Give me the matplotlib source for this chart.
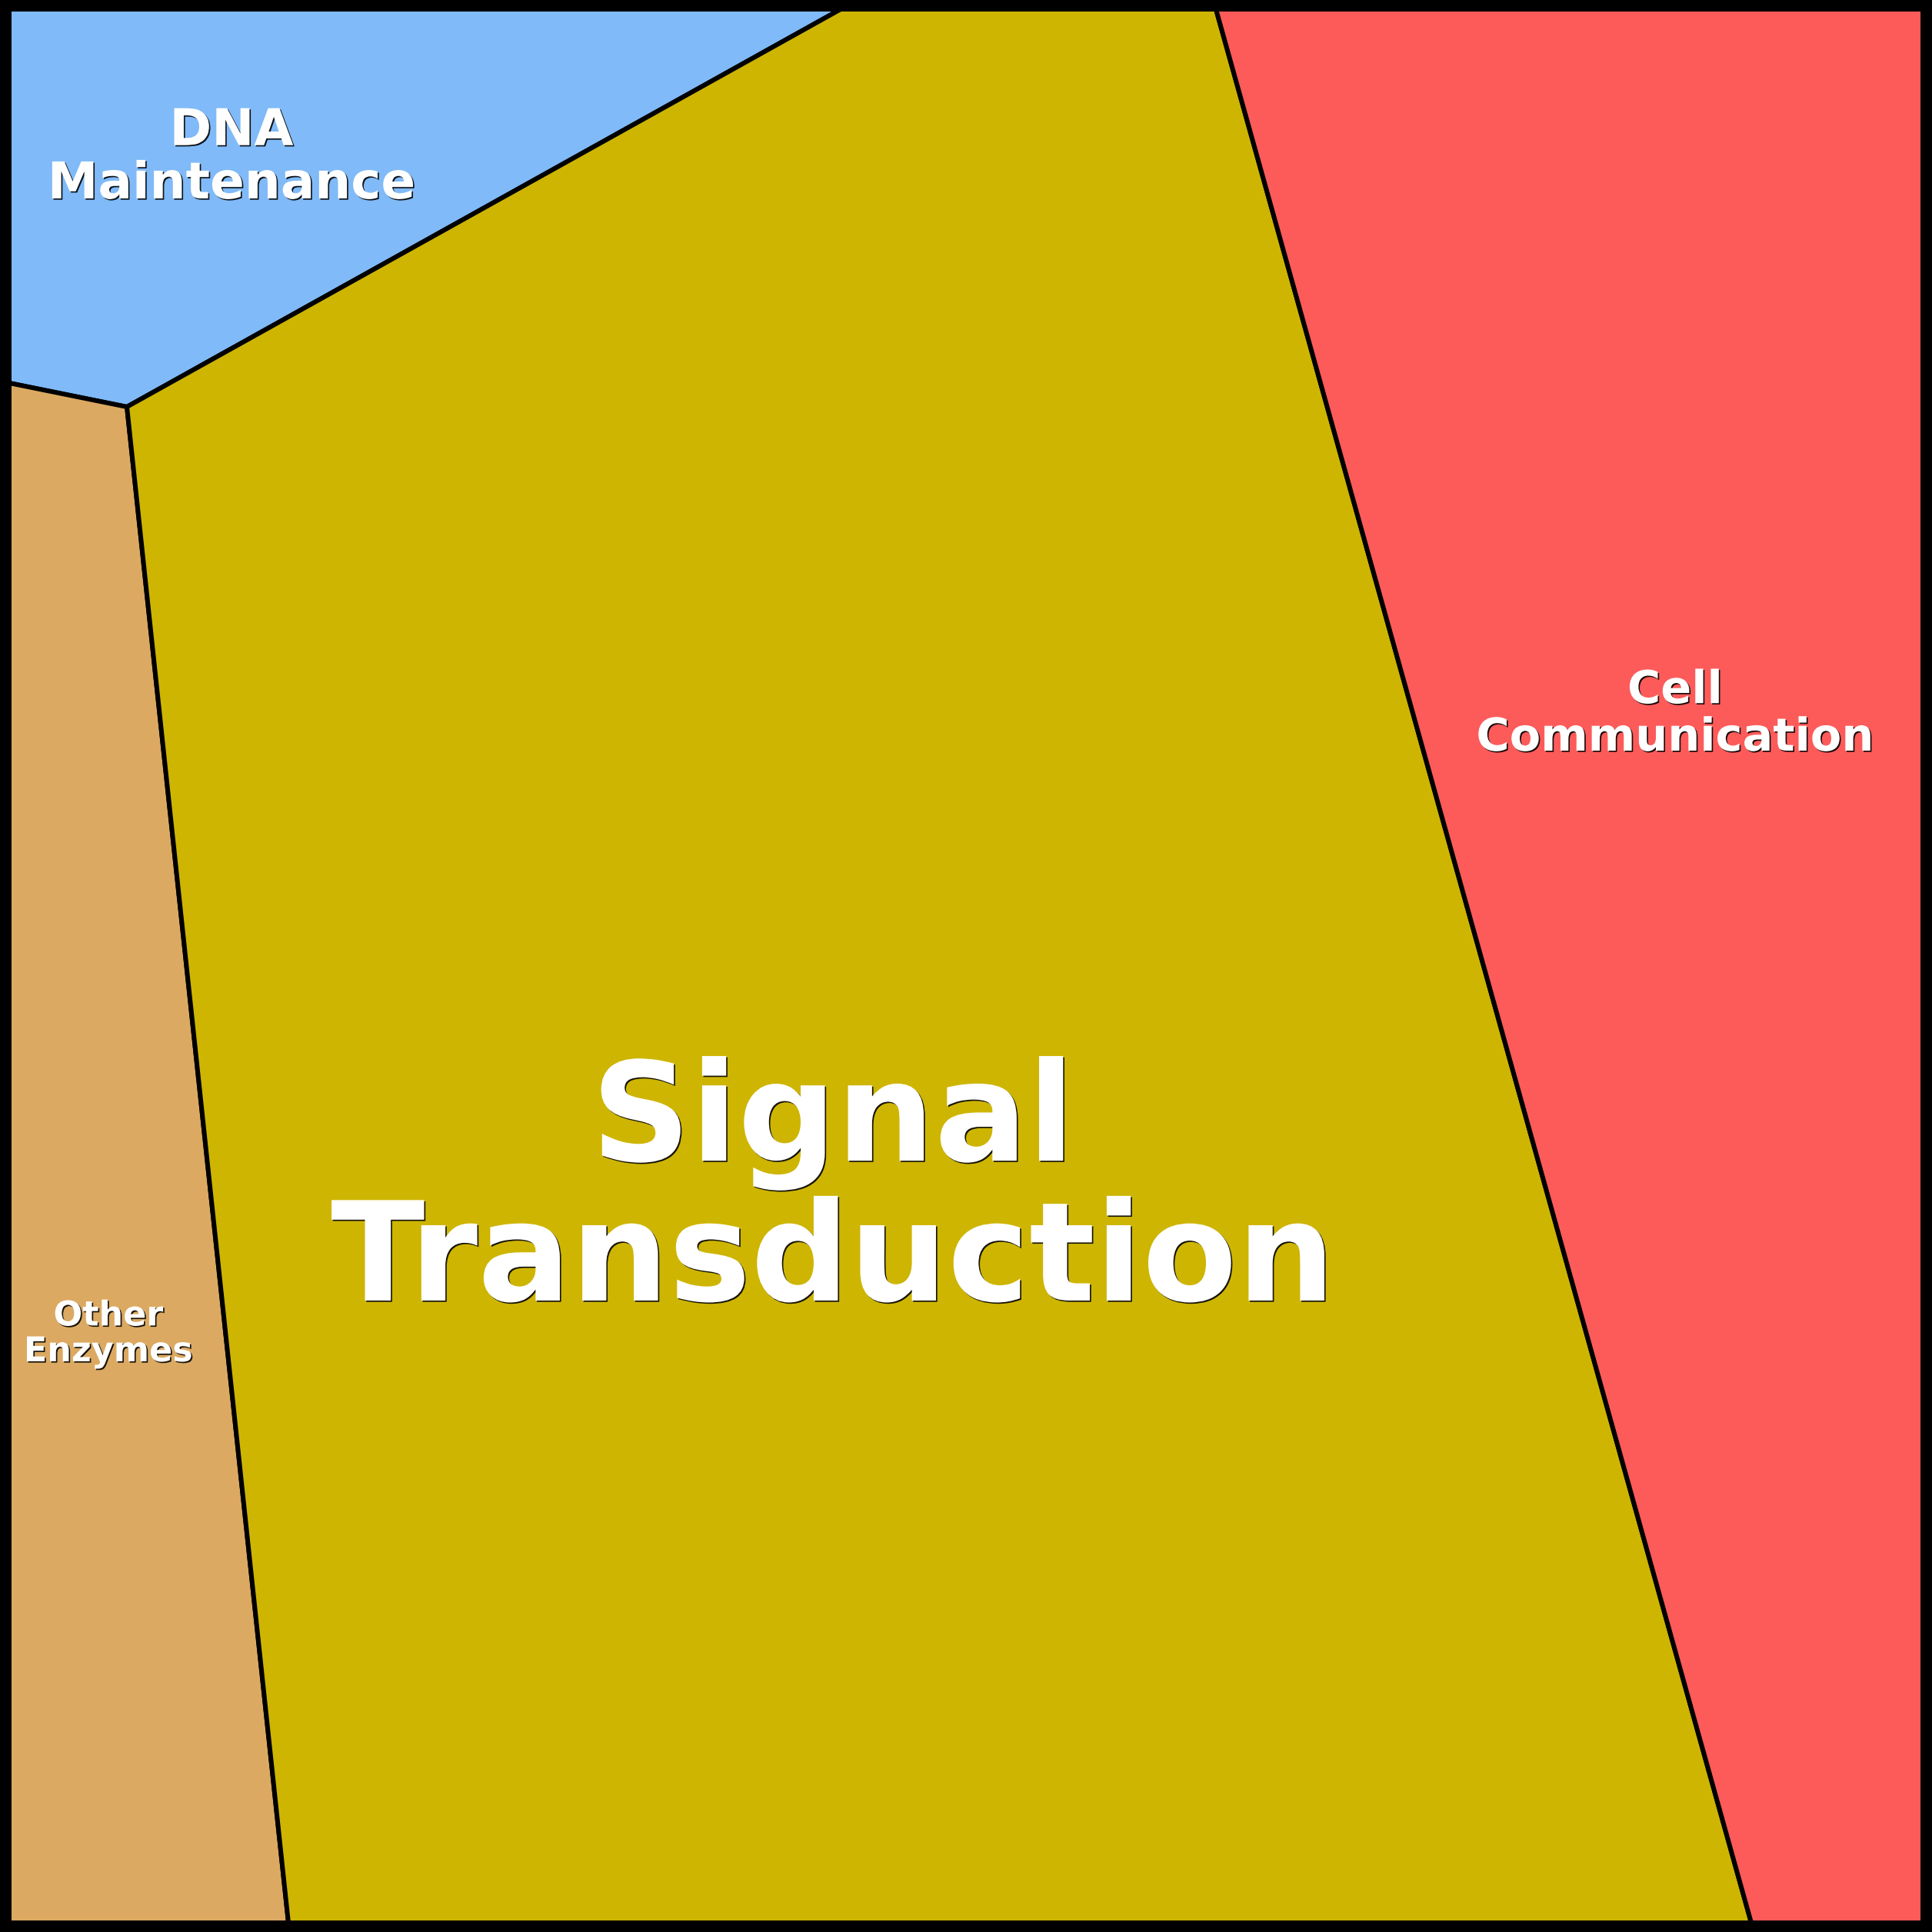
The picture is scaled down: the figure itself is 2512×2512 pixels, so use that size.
import matplotlib
matplotlib.use("Agg")
import matplotlib.pyplot as plt
import matplotlib.patheffects as pe
from matplotlib.patches import Polygon, Rectangle

# canvas size in pixels, frame drawn around the inner area
W = H = 2512
pad = 12

# shared cell vertices (pixel coords, y grows downward)
left_split = (pad, 498)        # DNA / Other on left edge
junction = (165, 529)          # DNA / Other / Signal
top_split_a = (1093, pad)      # DNA / Signal on top edge
top_split_b = (1581, pad)      # Signal / Cell on top edge
bottom_split_b = (2277, W - pad)  # Signal / Cell on bottom edge
bottom_split_a = (375, W - pad)   # Other / Signal on bottom edge

categories = ["DNA\nMaintenance", "Other\nEnzymes", "Signal\nTransduction", "Cell\nCommunication"]
colors = ["#80BAF8", "#DBA961", "#CEB502", "#FD5B5A"]

cells = [
    [(pad, pad), top_split_a, junction, left_split],
    [left_split, junction, bottom_split_a, (pad, H - pad)],
    [junction, top_split_a, top_split_b, bottom_split_b, bottom_split_a],
    [top_split_b, (W - pad, pad), (W - pad, H - pad), bottom_split_b],
]

# label anchor: centre x, baseline of last line; font size in pt
label_x = [301, 141, 1083, 2178]
label_y = [258, 1770, 1691, 976]
label_size = [47.5, 32, 129, 42.5]
label_spacing = [1.105, 1.105, 1.05, 1.105]

fig = plt.figure(figsize=(W / 100, H / 100), dpi=100)
ax = fig.add_axes([0, 0, 1, 1])
ax.set_xlim(0, W)
ax.set_ylim(H, 0)
ax.axis("off")

for poly, c in zip(cells, colors):
    ax.add_patch(Polygon(poly, closed=True, facecolor=c, edgecolor="black",
                         linewidth=4.3, joinstyle="miter"))

# outer frame
ax.add_patch(Rectangle((pad / 2, pad / 2), W - pad, H - pad, fill=False,
                       edgecolor="black", linewidth=pad * 0.72))

shadow = [pe.withSimplePatchShadow(offset=(1.2, -1.2), shadow_rgbFace="black", alpha=0.9)]
for name, x, y, s, ls in zip(categories, label_x, label_y, label_size, label_spacing):
    ax.text(x, y, name, ha="center", va="baseline", multialignment="center",
            fontsize=s, fontweight="bold", color="white", family="DejaVu Sans",
            linespacing=ls, path_effects=shadow)

fig.savefig("out.png", dpi=100)
